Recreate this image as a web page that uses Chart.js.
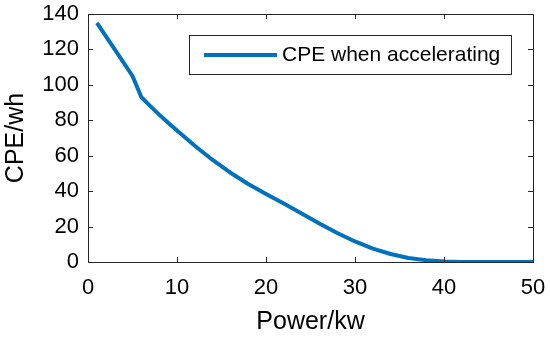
<!DOCTYPE html>
<html>
<head>
<meta charset="utf-8">
<script src="https://cdn.jsdelivr.net/npm/chart.js@4/dist/chart.umd.min.js"></script>
<style>
  html, body { margin: 0; padding: 0; background: #fff; }
  #wrap { width: 550px; height: 338px; }
</style>
</head>
<body>
<div id="wrap"><canvas id="myChart" width="550" height="338"></canvas></div>
<script>
// values
var power = [1, 2, 3, 4, 5, 6, 7, 8, 9, 10, 12, 14, 16, 18, 20, 22, 24, 26, 28, 30, 32, 34, 36, 38, 40, 42, 44, 46, 48, 50];
var cpe = [135, 127.5, 120, 112.5, 105, 93, 88, 83.2, 78.6, 74.2, 65.6, 57.6, 50.4, 44, 38.4, 33, 27.4, 21.8, 16.4, 11.6, 7.6, 4.5, 2.3, 1, 0.3, 0, 0, 0, 0, 0];
var xTicks = [0, 10, 20, 30, 40, 50];
var yTicks = [0, 20, 40, 60, 80, 100, 120, 140];
var seriesName = 'CPE when accelerating';
var lineColor = '#0072BD';
var fontFam = '"Liberation Sans", Arial, sans-serif';

var points = [];
for (var i = 0; i < power.length; i++) {
  points.push({ x: power[i], y: cpe[i] });
}

// MATLAB style box with inward ticks, and the legend inside the axes
var boxPlugin = {
  id: 'boxPlugin',
  afterDraw: function(chart) {
    var ctx = chart.ctx;
    var a = chart.chartArea;
    var xs = chart.scales.x, ys = chart.scales.y;
    ctx.save();
    ctx.strokeStyle = '#262626';
    ctx.lineWidth = 1;
    ctx.strokeRect(Math.round(a.left) + 0.5, Math.round(a.top) + 0.5, Math.round(a.right - a.left), Math.round(a.bottom - a.top));
    var tl = 5;
    ctx.beginPath();
    xTicks.forEach(function(v) {
      var px = Math.round(xs.getPixelForValue(v)) + 0.5;
      ctx.moveTo(px, a.bottom); ctx.lineTo(px, a.bottom - tl);
      ctx.moveTo(px, a.top); ctx.lineTo(px, a.top + tl);
    });
    yTicks.forEach(function(v) {
      var py = Math.round(ys.getPixelForValue(v)) + 0.5;
      ctx.moveTo(a.left, py); ctx.lineTo(a.left + tl, py);
      ctx.moveTo(a.right, py); ctx.lineTo(a.right - tl, py);
    });
    ctx.stroke();

    // legend
    var lx = 189, ly = 35, lw = 322, lh = 39;
    ctx.fillStyle = '#fff';
    ctx.fillRect(lx, ly, lw, lh);
    ctx.strokeStyle = '#262626';
    ctx.strokeRect(lx + 0.5, ly + 0.5, lw, lh);
    ctx.strokeStyle = lineColor;
    ctx.lineWidth = 4;
    ctx.beginPath();
    ctx.moveTo(204, ly + lh / 2 + 0.5);
    ctx.lineTo(277, ly + lh / 2 + 0.5);
    ctx.stroke();
    ctx.fillStyle = '#000';
    ctx.font = '21px ' + fontFam;
    ctx.textBaseline = 'middle';
    ctx.fillText(seriesName, 282, ly + lh / 2 + 1);
    ctx.restore();
  }
};

var ctx = document.getElementById('myChart').getContext('2d');
var chart = new Chart(ctx, {
  type: 'line',
  data: {
    datasets: [{
      label: seriesName,
      data: points,
      borderColor: lineColor,
      backgroundColor: lineColor,
      borderWidth: 4,
      pointRadius: 0,
      tension: 0,
      borderJoinStyle: 'round',
      fill: false
    }]
  },
  options: {
    responsive: false,
    animation: false,
    layout: { padding: { left: 0, right: 17, top: 14, bottom: 0 } },
    plugins: {
      legend: { display: false },
      tooltip: { enabled: false }
    },
    scales: {
      x: {
        type: 'linear',
        min: 0,
        max: 50,
        afterBuildTicks: function(s) { s.ticks = xTicks.map(function(v) { return { value: v }; }); },
        afterFit: function(s) { s.height = 76; s.paddingLeft = 0; s.paddingRight = 0; },
        grid: { display: false, drawTicks: false },
        border: { display: false },
        ticks: { color: '#000', font: { family: fontFam, size: 22 }, padding: 13, maxRotation: 0 },
        title: { display: true, text: 'Power/kw', color: '#000', font: { family: fontFam, size: 25 }, padding: { top: 0, bottom: 1 } }
      },
      y: {
        min: 0,
        max: 140,
        afterBuildTicks: function(s) { s.ticks = yTicks.map(function(v) { return { value: v }; }); },
        afterFit: function(s) { s.width = 88; s.paddingTop = 0; s.paddingBottom = 0; },
        grid: { display: false, drawTicks: false },
        border: { display: false },
        ticks: { color: '#000', font: { family: fontFam, size: 22 }, padding: 9 },
        title: { display: true, text: 'CPE/wh', color: '#000', font: { family: fontFam, size: 25 }, padding: { top: 1, bottom: 0 } }
      }
    }
  },
  plugins: [boxPlugin]
});
</script>
</body>
</html>
